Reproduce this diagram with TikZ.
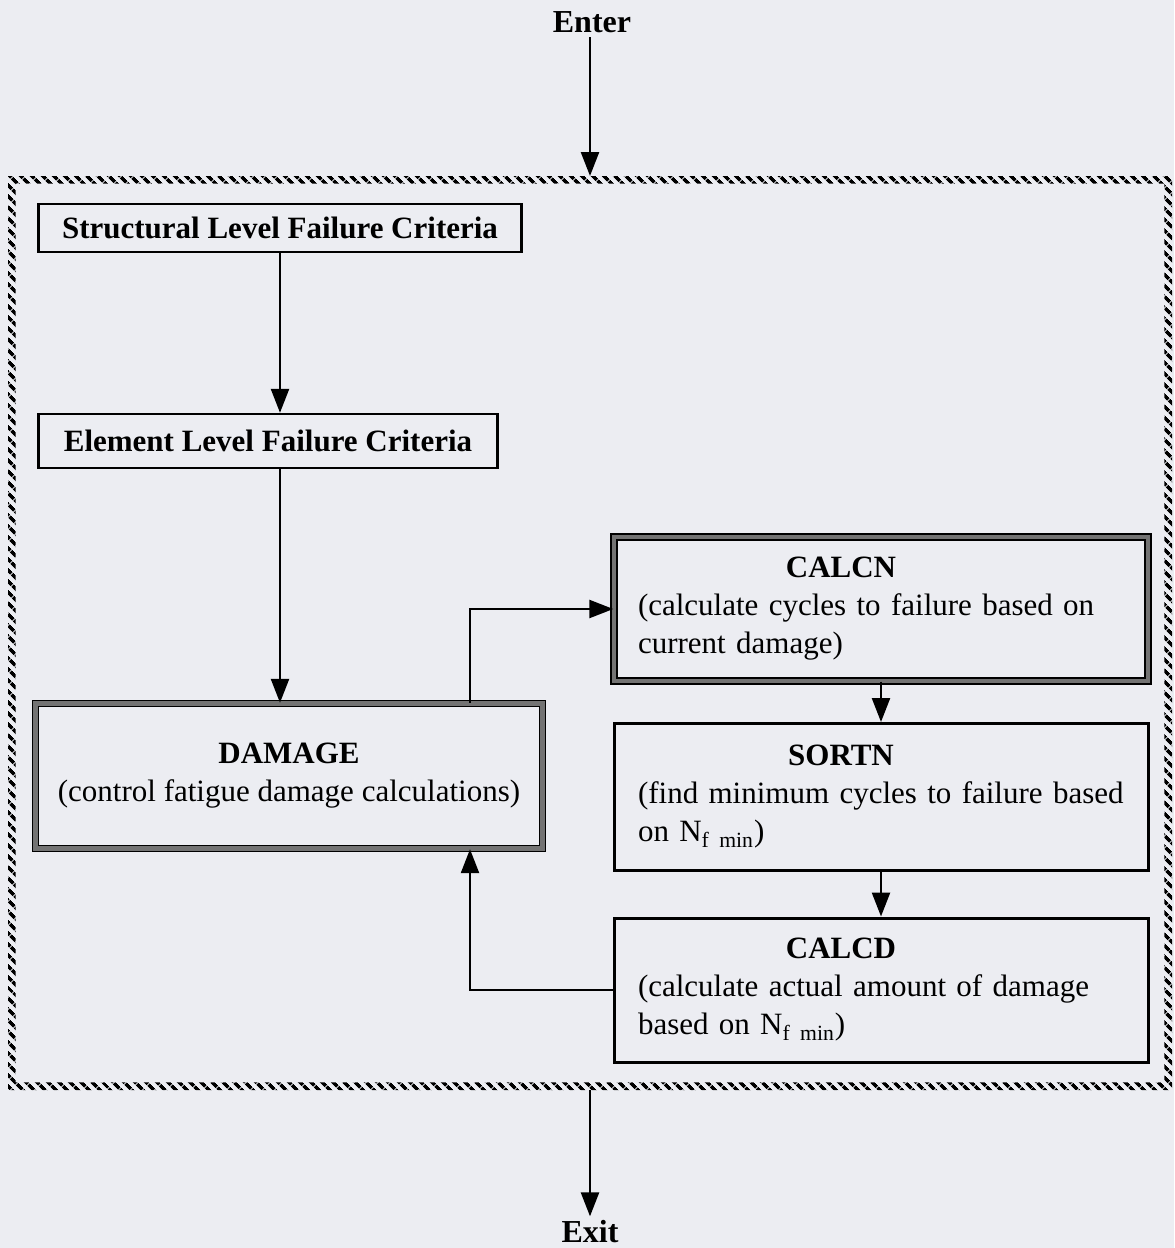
\documentclass[tikz,border=0pt]{standalone}
\usepackage{fontspec}
\setmainfont{Liberation Serif}
\usetikzlibrary{arrows.meta,patterns.meta,positioning}
\definecolor{paper}{RGB}{236,237,242}

\tikzset{
  flow/.style={draw, line width=1.2pt, -{Triangle[length=12pt,width=9pt]}},
  frame/.style={minimum width=582pt, minimum height=457pt, inner sep=0pt, outer sep=0pt},
  thinbox/.style={draw, line width=1.2pt, inner sep=0pt, font=\fontsize{15.5}{19}\selectfont\bfseries},
  mainbox/.style={draw=black, line width=0.7pt, double=black!55, double distance=2.4pt, inner sep=0pt},
  subbox/.style={draw, line width=1.5pt},
  rightbox/.style={text width=243pt, inner xsep=12pt, inner ysep=0pt, align=left, minimum height=72pt},
  endlabel/.style={font=\fontsize{16}{19}\selectfont\bfseries, inner sep=2pt}
}

\begin{document}
\begin{tikzpicture}[x=0.5pt, y=-0.5pt,
  every node/.style={font=\fontsize{15.5}{19}\selectfont}]
  \fill[paper] (0,0) rectangle (1174,1248);
  \useasboundingbox (0,0) rectangle (1174,1248);

  % hatched outer frame
  \node[frame] (frame) at (590,633) {};
  \fill[pattern={Lines[angle=-45,distance=4pt,line width=1.9pt]}, even odd rule]
    (frame.north west) rectangle (frame.south east)
    ([shift={(3.8pt,-3.8pt)}]frame.north west) rectangle ([shift={(-3.8pt,3.8pt)}]frame.south east);

  \node[endlabel] (enter) at (592,22) {Enter};
  \node[endlabel] (exit) at (590,1232) {Exit};

  % left column
  \node[thinbox, minimum width=241.5pt, minimum height=24pt] (struct) at (280,228) {Structural Level Failure Criteria};
  \node[thinbox, minimum width=229.5pt, minimum height=27pt] (elem) at (268,441) {Element Level Failure Criteria};
  \node[mainbox, minimum width=253.5pt, minimum height=72.5pt, align=center] (damage) at (289,776)
    {\textbf{DAMAGE}\\(control fatigue damage calculations)};

  % right column
  \node[mainbox, rightbox] (calcn) at (881,609)
    {\makebox[203pt]{\textbf{CALCN}}\\(calculate cycles to failure based on\\current damage)};
  \node[subbox, rightbox, minimum height=73.5pt] (sortn) at (881,797)
    {\makebox[203pt]{\textbf{SORTN}}\\(find minimum cycles to failure based\\on N\textsubscript{f min})};
  \node[subbox, rightbox] (calcd) at (881,990)
    {\makebox[203pt]{\textbf{CALCD}}\\(calculate actual amount of damage\\based on N\textsubscript{f min})};

  % connectors
  \draw[flow] (enter.south -| frame.north) -- (frame.north);
  \draw[flow] (struct.south) -- (struct.south |- elem.north);
  \draw[flow] (struct.south |- elem.south) -- (struct.south |- damage.north);
  \draw[flow] ([xshift=90.5pt]damage.north) |- (calcn.west);
  \draw[flow] (calcn.south) -- (sortn.north);
  \draw[flow] (sortn.south) -- (calcd.north);
  \draw[flow] (calcd.west) -| ([xshift=90.5pt]damage.south);
  \draw[flow] (frame.south) -- (exit);
\end{tikzpicture}
\end{document}
